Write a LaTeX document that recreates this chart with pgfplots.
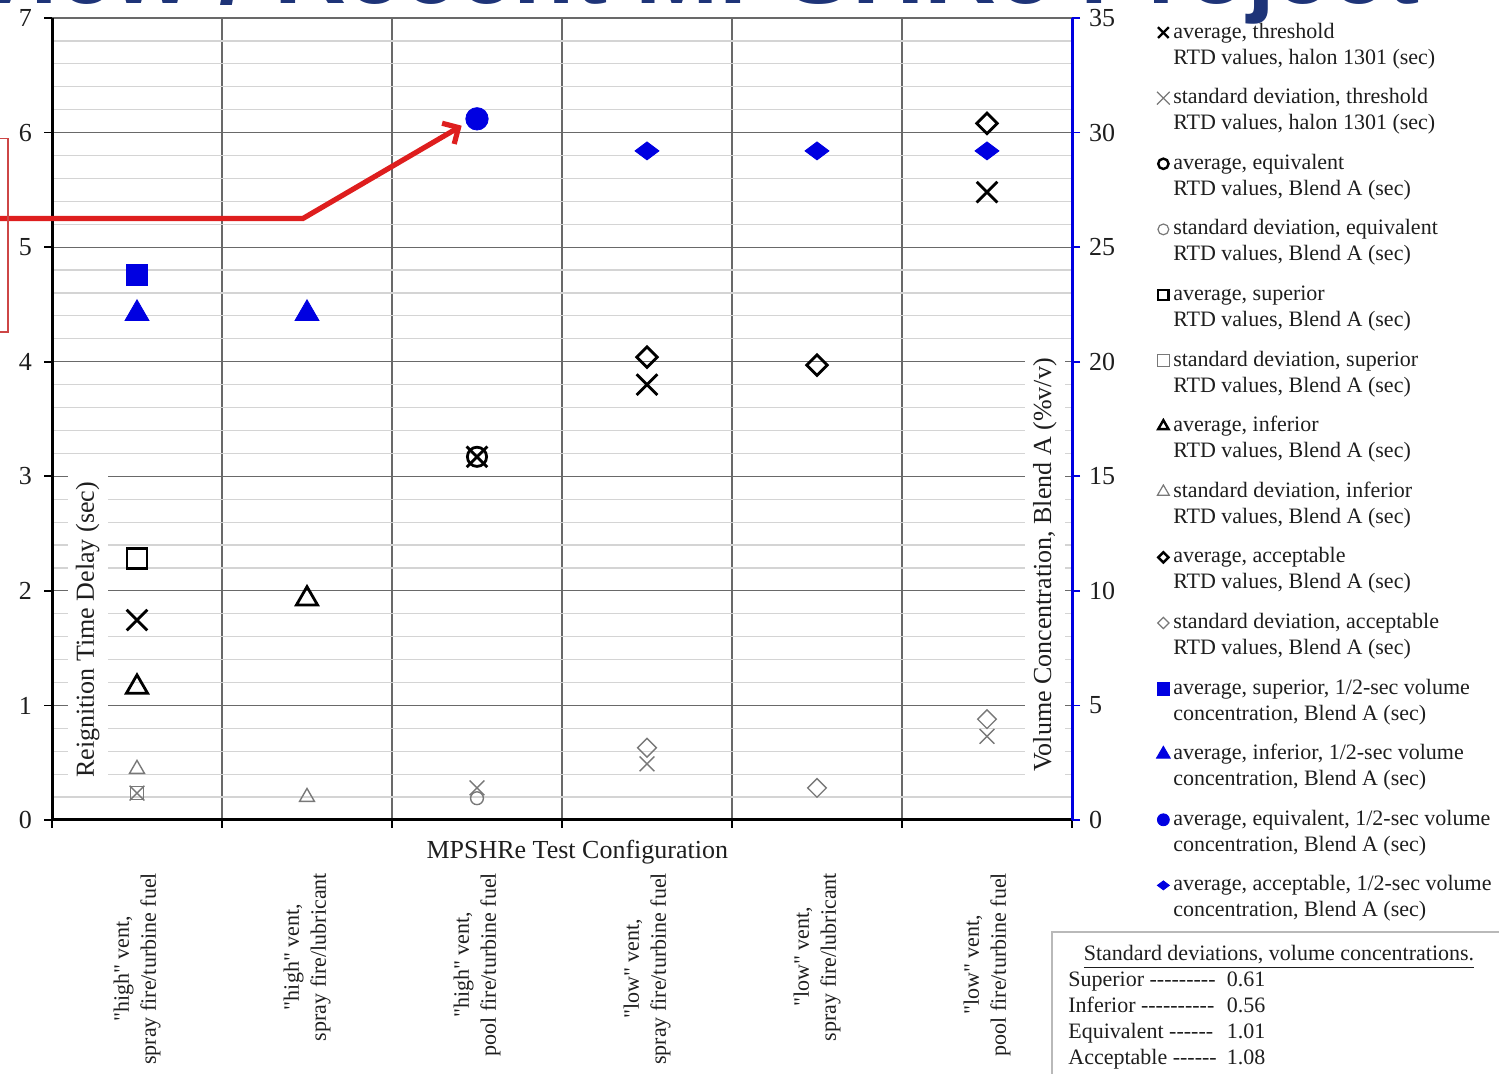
\documentclass[border=0pt]{standalone}
\usepackage{fontspec}
\setmainfont{Liberation Serif}[Ligatures=TeXOff]
\newfontfamily\titlefont{Liberation Sans}
\usepackage{pgfplots}
\pgfplotsset{compat=1.18}
\usetikzlibrary{arrows.meta}
\definecolor{mblue}{RGB}{0,0,225}
\definecolor{sdgray}{RGB}{120,120,120}
\definecolor{majgrid}{RGB}{105,105,105}
\definecolor{mingrid}{RGB}{212,212,212}
\definecolor{arrowred}{RGB}{222,30,30}
\definecolor{boxred}{RGB}{205,70,70}
\definecolor{titleblue}{RGB}{30,52,120}
\definecolor{txt}{RGB}{30,30,30}
\definecolor{boxgray}{RGB}{185,185,185}
\newcommand{\lfont}{\fontsize{13}{15}\selectfont}
\newcommand{\sfont}{\fontsize{11}{13}\selectfont}
\newcommand{\lgt}[2]{\parbox[t]{175pt}{\strut #1\\\strut #2}}
\begin{document}
\begin{tikzpicture}
\begin{axis}[
  name=ax, at={(0pt,0pt)}, anchor=south west,
  scale only axis, width=510pt, height=401pt,
  xmin=0, xmax=6, ymin=0, ymax=7,
  clip=false,
  axis x line*=bottom, axis y line*=left,
  axis line style={black, line width=1.5pt},
  xtick={0,1,2,3,4,5,6}, xticklabels={},
  ytick={0,1,2,3,4,5,6,7}, minor y tick num=4,
  tick align=outside, major tick length=4pt, minor tick length=0pt,
  tick style={black, line width=0.9pt},
  grid=both,
  major grid style={majgrid, line width=0.6pt},
  minor grid style={mingrid, line width=0.6pt},
  extra x ticks={0.5,1.5,2.5,3.5,4.5,5.5},
  extra x tick labels={{"high" vent,\\spray fire/turbine fuel},{"high" vent,\\spray fire/lubricant},{"high" vent,\\pool fire/turbine fuel},{"low" vent,\\spray fire/turbine fuel},{"low" vent,\\spray fire/lubricant},{"low" vent,\\pool fire/turbine fuel}},
  extra x tick style={grid=none, major tick length=0pt,
     xticklabel style={yshift=-23pt, rotate=90, anchor=east, align=center, text=txt, font=\fontsize{11}{13.5}\selectfont}},
  yticklabel style={font=\lfont, text=txt, xshift=-2.5pt},
  /pgf/number format/assume math mode=true,
  xlabel={MPSHRe Test Configuration},
  xlabel style={at={(axis description cs:0.515,0)}, anchor=center, yshift=-16pt, font=\lfont, text=txt},
  ylabel={Reignition Time Delay (sec)},
  ylabel style={at={(axis description cs:0.035,0.237)}, anchor=center, fill=white, inner sep=4pt, font=\lfont, text=txt},
]
\addplot[only marks, black, line width=1.4pt, mark=x, mark size=7.3pt] coordinates {(0.5,1.745) (2.5,3.17) (3.5,3.80) (5.5,5.48)};
\addplot[only marks, sdgray, line width=0.7pt, mark=x, mark size=5.2pt] coordinates {(0.5,0.235) (2.5,0.28) (3.5,0.49) (5.5,0.73)};
\addplot[only marks, black, line width=1.4pt, mark=o, mark size=4.8pt] coordinates {(2.5,3.17)};
\addplot[only marks, sdgray, line width=0.7pt, mark=o, mark size=3.2pt] coordinates {(2.5,0.19)};
\addplot[only marks, black, line width=1.4pt, mark=square, mark size=5pt] coordinates {(0.5,2.28)};
\addplot[only marks, sdgray, line width=0.7pt, mark=square, mark size=3.2pt] coordinates {(0.5,0.235)};
\addplot[only marks, black, line width=1.4pt, mark=triangle, mark size=6.1pt] coordinates {(0.5,1.16) (1.5,1.93)};
\addplot[only marks, sdgray, line width=0.7pt, mark=triangle, mark size=4.3pt] coordinates {(0.5,0.445) (1.5,0.20)};
\addplot[only marks, black, line width=1.4pt, mark=square, mark options={rotate=45}, mark size=3.6pt] coordinates {(3.5,4.04) (4.5,3.97) (5.5,6.08)};
\addplot[only marks, sdgray, line width=0.7pt, mark=square, mark options={rotate=45}, mark size=3.3pt] coordinates {(3.5,0.63) (4.5,0.28) (5.5,0.88)};
\draw[arrowred, line width=2.6pt, -{Straight Barb[length=6pt,width=12pt]}] (axis cs:-0.4,5.25) -- (axis cs:1.476,5.25) -- (axis cs:2.41,6.06);
\draw[boxred, line width=0.8pt] (axis cs:-0.4,5.95) -- (axis cs:-0.259,5.95) -- (axis cs:-0.259,4.26) -- (axis cs:-0.4,4.26);
\end{axis}
\begin{axis}[
  at={(0pt,0pt)}, anchor=south west,
  scale only axis, width=510pt, height=401pt,
  xmin=0, xmax=6, ymin=0, ymax=35,
  axis y line*=right, axis x line=none,
  y axis line style={mblue, line width=1.5pt},
  ytick={0,5,10,15,20,25,30,35},
  tick align=outside, major tick length=4pt,
  ytick style={mblue, line width=0.9pt},
  yticklabel style={font=\lfont, text=txt, xshift=1pt},
  /pgf/number format/assume math mode=true,
  ylabel={Volume Concentration, Blend A (\%v/v)},
  ylabel style={at={(axis description cs:0.9735,0.318)}, anchor=center, fill=white, inner sep=4pt, font=\lfont, text=txt},
  legend style={at={(axis description cs:1.0824,1.0005)}, anchor=north west, draw=none, fill=none, inner sep=0pt, row sep=20.2pt, cells={anchor=base west}, nodes={inner xsep=1.5pt, inner ysep=1pt, text=txt}, font=\sfont},
  legend image code/.code={\draw[#1] plot coordinates {(0pt,2.8pt)};},
]
\addlegendimage{black, line width=1.2pt, mark=x, mark size=3.8pt}
\addlegendentry{\lgt{average, threshold}{RTD values, halon 1301 (sec)}}
\addlegendimage{sdgray, line width=0.6pt, mark=x, mark size=4.5pt}
\addlegendentry{\lgt{standard deviation, threshold}{RTD values, halon 1301 (sec)}}
\addlegendimage{black, line width=1.2pt, mark=o, mark size=2.6pt}
\addlegendentry{\lgt{average, equivalent}{RTD values, Blend A (sec)}}
\addlegendimage{sdgray, line width=0.6pt, mark=o, mark size=2.7pt}
\addlegendentry{\lgt{standard deviation, equivalent}{RTD values, Blend A (sec)}}
\addlegendimage{black, line width=1.2pt, mark=square, mark size=2.6pt}
\addlegendentry{\lgt{average, superior}{RTD values, Blend A (sec)}}
\addlegendimage{sdgray, line width=0.6pt, mark=square, mark size=3pt}
\addlegendentry{\lgt{standard deviation, superior}{RTD values, Blend A (sec)}}
\addlegendimage{black, line width=1.2pt, mark=triangle, mark size=3pt}
\addlegendentry{\lgt{average, inferior}{RTD values, Blend A (sec)}}
\addlegendimage{sdgray, line width=0.6pt, mark=triangle, mark size=3.4pt}
\addlegendentry{\lgt{standard deviation, inferior}{RTD values, Blend A (sec)}}
\addlegendimage{black, line width=1.2pt, mark=square, mark options={rotate=45}, mark size=1.8pt}
\addlegendentry{\lgt{average, acceptable}{RTD values, Blend A (sec)}}
\addlegendimage{sdgray, line width=0.6pt, mark=square, mark options={rotate=45}, mark size=2pt}
\addlegendentry{\lgt{standard deviation, acceptable}{RTD values, Blend A (sec)}}
\addlegendimage{mblue, mark=square*, mark size=3.2pt}
\addlegendentry{\lgt{average, superior, 1/2-sec volume}{concentration, Blend A (sec)}}
\addlegendimage{mblue, mark=triangle*, mark size=4pt}
\addlegendentry{\lgt{average, inferior, 1/2-sec volume}{concentration, Blend A (sec)}}
\addlegendimage{mblue, mark=*, mark size=3pt}
\addlegendentry{\lgt{average, equivalent, 1/2-sec volume}{concentration, Blend A (sec)}}
\addlegendimage{mblue, mark=diamond*, mark options={rotate=90}, mark size=3pt}
\addlegendentry{\lgt{average, acceptable, 1/2-sec volume}{concentration, Blend A (sec)}}
\addplot[forget plot, only marks, mblue, mark=square*, mark size=5.3pt] coordinates {(0.5,23.8)};
\addplot[forget plot, only marks, mblue, mark=triangle*, mark size=6.9pt] coordinates {(0.5,22.1) (1.5,22.1)};
\addplot[forget plot, only marks, mblue, mark=*, mark size=5.6pt] coordinates {(2.5,30.6)};
\addplot[forget plot, only marks, mblue, mark=diamond*, mark options={rotate=90}, mark size=6pt] coordinates {(3.5,29.2) (4.5,29.2) (5.5,29.2)};
\end{axis}
\draw[boxgray, line width=1pt] (500pt,-56pt) rectangle (740pt,-145pt);
\node[anchor=base, inner sep=0pt, font=\sfont, text=txt] at (613.5pt,-70.5pt) {\underline{Standard deviations, volume concentrations.}};
\node[anchor=base west, inner sep=0pt, font=\sfont, text=txt] at (508pt,-83.5pt) {\begin{tabular}[t]{@{}l@{\hspace{5pt}}l@{}}Superior --------- & 0.61\\ Inferior ---------- & 0.56\\ Equivalent ------ & 1.01\\ Acceptable ------ & 1.08\end{tabular}};
\node[anchor=base east, inner sep=0pt, font=\titlefont\bfseries\fontsize{50}{50}\selectfont, text=titleblue] at (684pt,408pt) {Overview / Recent MPSHRe Project};
\pgfresetboundingbox
\useasboundingbox (-26pt,-127pt) rectangle (723.5pt,410pt);
\end{tikzpicture}
\end{document}
